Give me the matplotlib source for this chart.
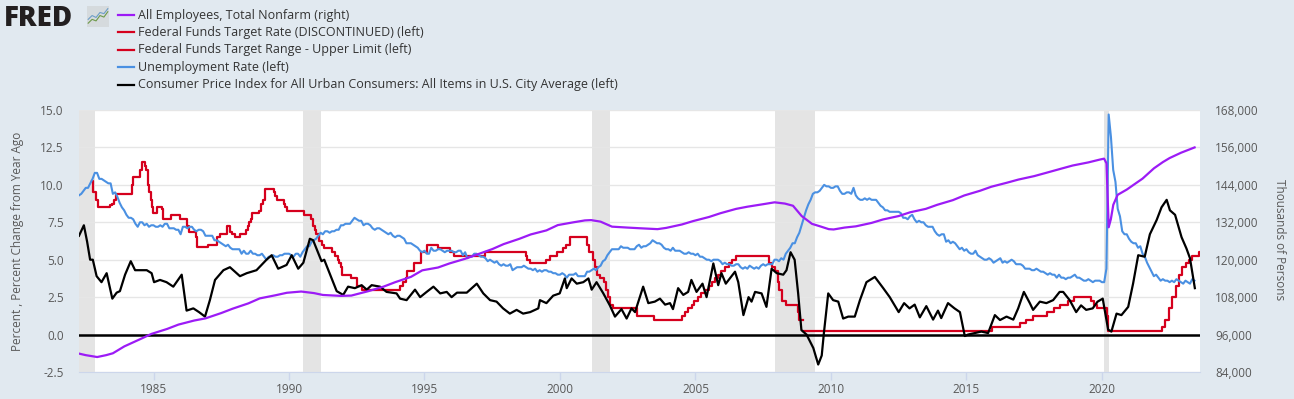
import matplotlib
matplotlib.use('Agg')
import matplotlib.pyplot as plt
from matplotlib.lines import Line2D
from matplotlib.ticker import FuncFormatter
import numpy

plt.rcParams['font.family'] = ['Open Sans', 'DejaVu Sans']

# --- data (decimal years) ---
unrate_start = 1982.25
unrate = [
    9.3, 9.4, 9.6, 9.8, 9.8, 10.1, 10.4, 10.8, 10.8,
    10.4, 10.4, 10.3, 10.2, 10.1, 10.1, 9.4, 9.5, 9.2, 8.8, 8.5, 8.3,
    8.0, 7.8, 7.8, 7.7, 7.4, 7.2, 7.5, 7.5, 7.3, 7.4, 7.2, 7.3,
    7.3, 7.2, 7.2, 7.3, 7.2, 7.4, 7.4, 7.1, 7.1, 7.1, 7.0, 7.0,
    6.7, 7.2, 7.2, 7.1, 7.2, 7.2, 7.0, 6.9, 7.0, 7.0, 6.9, 6.6,
    6.6, 6.6, 6.6, 6.3, 6.3, 6.2, 6.1, 6.0, 5.9, 6.0, 5.8, 5.7,
    5.7, 5.7, 5.7, 5.4, 5.6, 5.4, 5.4, 5.6, 5.4, 5.4, 5.3, 5.3,
    5.4, 5.2, 5.0, 5.2, 5.2, 5.3, 5.2, 5.2, 5.3, 5.3, 5.4, 5.4,
    5.4, 5.3, 5.2, 5.4, 5.4, 5.2, 5.5, 5.7, 5.9, 5.9, 6.2, 6.3,
    6.4, 6.6, 6.8, 6.7, 6.9, 6.9, 6.8, 6.9, 6.9, 7.0, 7.0, 7.3,
    7.3, 7.4, 7.4, 7.4, 7.6, 7.8, 7.7, 7.6, 7.6, 7.3, 7.4, 7.4,
    7.3, 7.1, 7.0, 7.1, 7.1, 7.0, 6.9, 6.8, 6.7, 6.8, 6.6, 6.5,
    6.6, 6.6, 6.5, 6.4, 6.1, 6.1, 6.1, 6.0, 5.9, 5.8, 5.6, 5.5,
    5.6, 5.4, 5.4, 5.8, 5.6, 5.6, 5.7, 5.7, 5.6, 5.5, 5.6, 5.6,
    5.6, 5.5, 5.5, 5.6, 5.6, 5.3, 5.5, 5.1, 5.2, 5.2, 5.4, 5.4,
    5.3, 5.2, 5.2, 5.1, 4.9, 5.0, 4.9, 4.8, 4.9, 4.7, 4.6, 4.7,
    4.6, 4.6, 4.7, 4.3, 4.4, 4.5, 4.5, 4.5, 4.6, 4.5, 4.4, 4.4,
    4.3, 4.4, 4.2, 4.3, 4.2, 4.3, 4.3, 4.2, 4.2, 4.1, 4.1, 4.0,
    4.0, 4.1, 4.0, 3.8, 4.0, 4.0, 4.0, 4.1, 3.9, 3.9, 3.9, 3.9,
    4.2, 4.2, 4.3, 4.4, 4.3, 4.5, 4.6, 4.9, 5.0, 5.3, 5.5, 5.7,
    5.7, 5.7, 5.7, 5.9, 5.8, 5.8, 5.8, 5.7, 5.7, 5.7, 5.9, 6.0,
    5.8, 5.9, 5.9, 6.0, 6.1, 6.3, 6.2, 6.1, 6.1, 6.0, 5.8, 5.7,
    5.7, 5.6, 5.8, 5.6, 5.6, 5.6, 5.5, 5.4, 5.4, 5.5, 5.4, 5.4,
    5.3, 5.4, 5.2, 5.2, 5.1, 5.0, 5.0, 4.9, 5.0, 5.0, 5.0, 4.9,
    4.7, 4.8, 4.7, 4.7, 4.6, 4.6, 4.7, 4.7, 4.5, 4.4, 4.5, 4.4,
    4.6, 4.5, 4.4, 4.5, 4.4, 4.6, 4.7, 4.6, 4.7, 4.7, 4.7, 5.0,
    5.0, 4.9, 5.1, 5.0, 5.4, 5.6, 5.8, 6.1, 6.1, 6.5, 6.8, 7.3,
    7.8, 8.3, 8.7, 9.0, 9.4, 9.5, 9.5, 9.6, 9.8, 10.0, 9.9, 9.9,
    9.8, 9.8, 9.9, 9.9, 9.6, 9.4, 9.4, 9.5, 9.5, 9.4, 9.8, 9.3,
    9.1, 9.0, 9.0, 9.1, 9.0, 9.1, 9.0, 9.0, 9.0, 8.8, 8.6, 8.5,
    8.3, 8.3, 8.2, 8.2, 8.2, 8.2, 8.2, 8.1, 7.8, 7.8, 7.7, 7.9,
    8.0, 7.7, 7.5, 7.6, 7.5, 7.5, 7.3, 7.2, 7.2, 7.2, 6.9, 6.7,
    6.6, 6.7, 6.7, 6.2, 6.3, 6.1, 6.2, 6.1, 5.9, 5.7, 5.8, 5.6,
    5.7, 5.5, 5.4, 5.4, 5.6, 5.3, 5.2, 5.1, 5.0, 5.0, 5.1, 5.0,
    4.8, 4.9, 5.0, 5.1, 4.8, 4.9, 4.8, 4.9, 5.0, 4.9, 4.7, 4.7,
    4.7, 4.6, 4.4, 4.4, 4.4, 4.3, 4.3, 4.4, 4.3, 4.2, 4.2, 4.1,
    4.0, 4.1, 4.0, 4.0, 3.8, 4.0, 3.8, 3.8, 3.7, 3.8, 3.8, 3.9,
    4.0, 3.8, 3.8, 3.7, 3.6, 3.6, 3.7, 3.6, 3.5, 3.6, 3.6, 3.6,
    3.5, 3.5, 4.4, 14.7, 13.2, 11.0, 10.2, 8.4, 7.9, 6.9, 6.7, 6.7,
    6.4, 6.2, 6.1, 6.1, 5.8, 5.9, 5.4, 5.2, 4.8, 4.5, 4.2, 3.9,
    4.0, 3.8, 3.6, 3.7, 3.6, 3.6, 3.5, 3.6, 3.5, 3.7, 3.6, 3.5,
    3.4, 3.6, 3.5, 3.4, 3.7, 3.6,
]
unrate_x = unrate_start + numpy.arange(len(unrate)) / 12.0

cpi_x = [
    1982.25, 1982.43, 1982.55, 1982.66, 1982.76, 1982.9, 1983.08, 1983.27,
    1983.48, 1983.64, 1983.76, 1983.95, 1984.16, 1984.32, 1984.75, 1984.93,
    1985.02, 1985.24, 1985.48, 1985.73, 1986.04, 1986.22, 1986.47, 1986.68,
    1986.9, 1987.08, 1987.27, 1987.58, 1987.82, 1988.19, 1988.44, 1988.8,
    1989.17, 1989.36, 1989.6, 1989.91, 1990.1, 1990.34, 1990.53, 1990.77,
    1990.89, 1991.2, 1991.3, 1991.76, 1992.0, 1992.18, 1992.43, 1992.68,
    1992.87, 1993.05, 1993.36, 1993.6, 1993.97, 1994.1, 1994.34, 1994.65,
    1994.84, 1995.08, 1995.33, 1995.58, 1995.82, 1996.0, 1996.2, 1996.56,
    1996.93, 1997.17, 1997.42, 1997.66, 1997.9, 1998.15, 1998.4, 1998.64,
    1998.9, 1999.2, 1999.26, 1999.5, 1999.75, 1999.99, 2000.18, 2000.25,
    2000.43, 2000.62, 2000.86, 2001.05, 2001.17, 2001.35, 2001.6, 2001.84,
    2002.03, 2002.27, 2002.46, 2002.64, 2002.77, 2003.07, 2003.26, 2003.5,
    2003.69, 2003.88, 2004.06, 2004.17, 2004.36, 2004.55, 2004.73, 2004.85,
    2005.04, 2005.26, 2005.41, 2005.66, 2005.84, 2005.96, 2006.12, 2006.46,
    2006.58, 2006.77, 2006.96, 2007.07, 2007.2, 2007.44, 2007.62, 2007.81,
    2008.0, 2008.24, 2008.36, 2008.51, 2008.66, 2008.79, 2008.91, 2009.1,
    2009.35, 2009.53, 2009.66, 2009.74, 2009.9, 2010.08, 2010.27, 2010.45,
    2010.64, 2010.88, 2011.07, 2011.31, 2011.62, 2011.93, 2012.17, 2012.5,
    2012.7, 2012.9, 2013.09, 2013.28, 2013.52, 2013.77, 2013.95, 2014.07,
    2014.32, 2014.56, 2014.76, 2014.94, 2015.06, 2015.31, 2015.55, 2015.8,
    2016.05, 2016.24, 2016.48, 2016.73, 2016.91, 2017.12, 2017.34, 2017.46,
    2017.71, 2017.95, 2018.2, 2018.44, 2018.57, 2018.81, 2019.05, 2019.23,
    2019.42, 2019.66, 2019.84, 2020.03, 2020.23, 2020.35, 2020.54, 2020.72,
    2020.97, 2021.15, 2021.34, 2021.58, 2021.77, 2022.02, 2022.2, 2022.39,
    2022.51, 2022.7, 2022.94, 2023.12, 2023.25, 2023.43,
]
cpi = [
    6.6, 7.3, 6.2, 5.0, 5.0, 3.9, 3.5, 4.1,
    2.4, 2.8, 2.9, 4.0, 4.9, 4.3, 4.3, 4.1,
    3.5, 3.65, 3.5, 3.2, 4.0, 1.6, 1.75, 1.5,
    1.2, 2.3, 3.65, 4.3, 4.5, 3.9, 4.1, 4.3,
    5.0, 5.3, 4.4, 4.65, 5.3, 4.4, 4.8, 6.4,
    6.3, 4.9, 5.0, 2.9, 2.65, 3.2, 3.1, 3.3,
    3.0, 3.3, 3.2, 2.85, 2.75, 2.4, 2.3, 3.0,
    2.5, 2.85, 3.2, 2.75, 2.85, 2.5, 2.8, 2.8,
    3.4, 2.75, 2.3, 2.2, 1.75, 1.4, 1.65, 1.4,
    1.5, 1.75, 2.3, 2.1, 2.6, 2.75, 3.75, 3.1,
    3.75, 3.4, 3.5, 3.75, 3.0, 3.5, 2.75, 1.95,
    1.2, 1.7, 1.07, 1.75, 1.5, 3.2, 2.1, 2.2,
    2.4, 2.0, 2.1, 1.7, 3.1, 2.65, 2.85, 3.65,
    2.85, 3.4, 2.5, 4.75, 3.3, 4.1, 3.4, 4.2,
    3.5, 1.3, 2.5, 2.2, 2.85, 2.75, 1.85, 4.4,
    4.1, 4.0, 4.3, 5.5, 5.0, 2.75, 0.3, 0.0,
    -0.9, -2.0, -1.4, 0.1, 2.75, 2.3, 2.2, 1.07,
    1.2, 1.2, 2.3, 3.5, 3.85, 3.1, 2.5, 1.5,
    2.1, 1.75, 2.0, 1.15, 1.9, 1.0, 1.6, 1.1,
    2.1, 1.75, 1.5, -0.1, 0.0, 0.1, 0.2, 0.1,
    1.3, 0.97, 1.2, 1.0, 1.75, 2.85, 2.1, 1.65,
    2.2, 2.1, 2.3, 2.85, 2.85, 2.3, 1.5, 1.95,
    1.65, 1.75, 2.2, 2.4, 0.33, 0.2, 1.4, 1.3,
    1.85, 3.4, 5.3, 5.2, 6.7, 7.65, 8.5, 9.0,
    8.3, 8.0, 6.5, 5.75, 5.1, 3.1,
]

payems_x = [
    1982.25, 1982.5, 1982.92, 1983.25, 1983.5, 1983.92, 1984.5, 1984.92,
    1985.5, 1985.92, 1986.5, 1986.92, 1987.5, 1987.92, 1988.5, 1988.92,
    1989.5, 1989.92, 1990.45, 1990.92, 1991.25, 1991.92, 1992.3, 1992.92,
    1993.5, 1993.92, 1994.5, 1994.92, 1995.5, 1995.92, 1996.5, 1996.92,
    1997.5, 1997.92, 1998.5, 1998.92, 1999.5, 1999.92, 2000.5, 2000.92,
    2001.15, 2001.5, 2001.92, 2002.5, 2002.92, 2003.6, 2003.92, 2004.5,
    2004.92, 2005.5, 2005.92, 2006.5, 2006.92, 2007.5, 2007.92, 2008.3,
    2008.6, 2008.92, 2009.3, 2009.6, 2009.92, 2010.1, 2010.5, 2010.92,
    2011.5, 2011.92, 2012.5, 2012.92, 2013.5, 2013.92, 2014.5, 2014.92,
    2015.5, 2015.92, 2016.5, 2016.92, 2017.5, 2017.92, 2018.5, 2018.92,
    2019.5, 2019.92, 2020.08, 2020.17, 2020.25, 2020.33, 2020.42, 2020.58,
    2020.92, 2021.25, 2021.5, 2021.92, 2022.25, 2022.5, 2022.92, 2023.42,
]
payems = [
    89900, 89400, 88800, 89400, 90000, 92200, 94500, 96200,
    97800, 99200, 100500, 101200, 102900, 104300, 106000, 107600,
    108600, 109400, 109800, 109300, 108700, 108400, 108500, 109900,
    111400, 112800, 114500, 116600, 117500, 118800, 120300, 121600,
    123400, 125000, 126700, 128100, 129400, 131100, 132000, 132600,
    132700, 132200, 130600, 130300, 130100, 129800, 130200, 131300,
    132400, 133700, 134900, 136300, 137000, 137800, 138400, 138000,
    137300, 134000, 131500, 130700, 129800, 129700, 130300, 130700,
    131800, 132900, 134000, 135200, 136300, 137600, 139100, 140600,
    142100, 143400, 144700, 145700, 146800, 147800, 149200, 150200,
    151200, 152100, 152400, 150900, 130400, 133000, 137600, 140800,
    142500, 144500, 146000, 149300, 151300, 152600, 154300, 156000,
]

# federal funds target rate: date of change, new level
fftar_x = [
    1982.74, 1982.75, 1982.77, 1982.88, 1982.95, 1983.40, 1983.48, 1983.53,
    1983.6, 1984.19, 1984.25, 1984.5, 1984.56, 1984.69, 1984.72, 1984.78,
    1984.85, 1984.9, 1984.93, 1984.97, 1985.12, 1985.3, 1985.36, 1985.65,
    1985.96, 1986.22, 1986.3, 1986.55, 1986.6, 1987.0, 1987.33, 1987.45,
    1987.7, 1987.84, 1987.9, 1988.0, 1988.19, 1988.42, 1988.48, 1988.52,
    1988.58, 1988.62, 1988.88, 1988.95, 1989.05, 1989.11, 1989.45, 1989.5,
    1989.54, 1989.8, 1989.87, 1989.91, 1990.55, 1990.8, 1990.87, 1990.9,
    1990.95, 1991.01, 1991.1, 1991.2, 1991.3, 1991.6, 1991.7, 1991.8,
    1991.85, 1991.92, 1991.97, 1992.27, 1992.5, 1992.7, 1994.1, 1994.2,
    1994.3, 1994.37, 1994.62, 1994.87, 1995.1, 1995.5, 1995.96, 1996.08,
    1997.23, 1998.75, 1998.79, 1998.88, 1999.5, 1999.65, 1999.88, 2000.1,
    2000.22, 2000.38, 2001.0, 2001.08, 2001.22, 2001.3, 2001.38, 2001.49,
    2001.64, 2001.71, 2001.76, 2001.85, 2001.95, 2002.85, 2003.48, 2004.5,
    2004.61, 2004.72, 2004.86, 2004.96, 2005.09, 2005.22, 2005.34, 2005.5,
    2005.61, 2005.72, 2005.84, 2005.96, 2006.08, 2006.24, 2006.36, 2006.5,
    2007.71, 2007.83, 2007.95, 2008.06, 2008.08, 2008.21, 2008.33, 2008.77,
    2008.83, 2008.96,
]
fftar = [
    10.25, 10.0, 9.5, 9.0, 8.5, 8.625, 8.75, 9.0,
    9.4, 10.0, 10.5, 11.0, 11.5, 11.25, 11.0, 10.0,
    9.5, 9.0, 8.5, 8.1, 8.5, 8.375, 7.75, 8.0,
    7.75, 7.25, 6.875, 6.5, 5.875, 6.0, 6.5, 6.75,
    7.25, 6.875, 6.75, 6.5, 6.75, 7.0, 7.25, 7.5,
    7.75, 8.125, 8.25, 8.75, 9.0, 9.75, 9.5, 9.25,
    9.0, 8.75, 8.5, 8.25, 8.0, 7.75, 7.5, 7.25,
    7.0, 6.75, 6.25, 6.0, 5.75, 5.5, 5.25, 5.0,
    4.75, 4.5, 4.0, 3.75, 3.25, 3.0, 3.25, 3.5,
    3.75, 4.25, 4.75, 5.5, 6.0, 5.75, 5.5, 5.25,
    5.5, 5.25, 5.0, 4.75, 5.0, 5.25, 5.5, 5.75,
    6.0, 6.5, 6.0, 5.5, 5.0, 4.5, 4.0, 3.75,
    3.5, 3.0, 2.5, 2.0, 1.75, 1.25, 1.0, 1.25,
    1.5, 1.75, 2.0, 2.25, 2.5, 2.75, 3.0, 3.25,
    3.5, 3.75, 4.0, 4.25, 4.5, 4.75, 5.0, 5.25,
    4.75, 4.5, 4.25, 3.5, 3.0, 2.25, 2.0, 1.5,
    1.0, 1.0,
]

ffupper_x = [
    2008.96, 2015.96, 2016.96, 2017.2, 2017.46, 2017.96, 2018.22, 2018.46,
    2018.74, 2018.97, 2019.58, 2019.72, 2019.83, 2020.17, 2020.21, 2022.21,
    2022.34, 2022.46, 2022.57, 2022.72, 2022.84, 2022.96, 2023.09, 2023.22,
    2023.34, 2023.57, 2023.62,
]
ffupper = [
    0.25, 0.5, 0.75, 1.0, 1.25, 1.5, 1.75, 2.0,
    2.25, 2.5, 2.25, 2.0, 1.75, 1.25, 0.25, 0.5,
    1.0, 1.75, 2.5, 3.25, 4.0, 4.5, 4.75, 5.0,
    5.25, 5.5, 5.5,
]

recessions = [(1981.5, 1982.83), (1990.5, 1991.17), (2001.17, 2001.83),
              (2007.92, 2009.42), (2020.08, 2020.25)]

series_names = [
    'All Employees, Total Nonfarm (right)',
    'Federal Funds Target Rate (DISCONTINUED) (left)',
    'Federal Funds Target Range - Upper Limit (left)',
    'Unemployment Rate (left)',
    'Consumer Price Index for All Urban Consumers: All Items in U.S. City Average (left)',
]

PURPLE = '#9c1bf6'
RED = '#d5001d'
BLUE = '#4a90e2'
BLACK = '#000000'
BG = '#e1e9f0'
TXT = '#595959'
colors = [PURPLE, RED, RED, BLUE, BLACK]

W, H = 1294, 399
fig = plt.figure(figsize=(W / 100, H / 100), dpi=100, facecolor=BG)
ax = fig.add_axes([79 / W, 27 / H, 1121 / W, 262 / H])
ax.set_facecolor('white')
ax2 = ax.twinx()

for a, b in recessions:
    ax.axvspan(a, b, color='#e4e4e4', lw=0, zorder=0)

ax.step(fftar_x, fftar, where='post', color=RED, lw=1.6, zorder=3)
ax.step(ffupper_x, ffupper, where='post', color=RED, lw=1.6, zorder=3)
ax.plot(unrate_x, unrate, color=BLUE, lw=1.5, zorder=3)
ax.plot(cpi_x, cpi, color=BLACK, lw=1.6, zorder=4)
ax.axhline(0, color='black', lw=1.8, zorder=5)
ax2.plot(payems_x, payems, color=PURPLE, lw=1.6)

ax.set_xlim(1982.25, 2023.62)
ax.set_ylim(-2.5, 15)
ax2.set_ylim(84000, 168000)
ax.set_yticks(numpy.arange(-2.5, 15.01, 2.5))
ax2.set_yticks(numpy.arange(84000, 168001, 12000))
ax.yaxis.set_major_formatter(FuncFormatter(lambda v, p: '{:.1f}'.format(v)))
ax2.yaxis.set_major_formatter(FuncFormatter(lambda v, p: '{:,}'.format(int(v))))
ax.set_xticks(range(1985, 2021, 5))

ax.grid(axis='y', color='#e6e6e6', lw=1, zorder=1)
ax.set_axisbelow(True)
for a in (ax, ax2):
    for s in a.spines.values():
        s.set_visible(False)
ax.spines['bottom'].set_visible(True)
ax.spines['bottom'].set_color('#ccd6eb')

ax.tick_params(axis='x', colors='#ccd6eb', labelcolor=TXT, length=5.5,
               width=1, labelsize=8.5, pad=2.5)
ax.tick_params(axis='y', length=0, labelcolor=TXT, labelsize=8.5, pad=11)
ax2.tick_params(axis='y', length=0, labelcolor=TXT, labelsize=8.5, pad=11)

fig.text(18 / W, 1 - 241 / H, 'Percent , Percent Change from Year Ago',
         rotation=90, ha='center', va='center', color=TXT, fontsize=8.5)
fig.text(1279 / W, 1 - 240 / H, 'Thousands of Persons', rotation=270,
         ha='center', va='center', color=TXT, fontsize=8.5)

# legend
for i, (name, c) in enumerate(zip(series_names, colors)):
    yy = 1 - (15 + i * 17.4) / H
    fig.add_artist(Line2D([118 / W, 134 / W], [yy, yy], color=c, lw=1.6,
                          transform=fig.transFigure))
    fig.text(138 / W, yy, name, va='center', ha='left', fontsize=9,
             color='#333333')

# FRED logo
fig.text(4 / W, 1 - 26 / H, 'FRED', fontsize=20, fontweight='heavy',
         color='#231f20', va='baseline', ha='left')
icon = fig.add_axes([87 / W, 1 - 27 / H, 22 / W, 21 / H])
icon.set_facecolor('#d5dadd')
icon.plot([0, 1, 2, 3, 4, 5], [1, 2, 1.6, 3, 2.6, 4], color='#6e9a4a', lw=0.8)
icon.plot([0, 1, 2, 3, 4, 5], [2, 3, 2.5, 3.8, 3.5, 4.8], color='#6d9ec8', lw=0.8)
icon.set_xlim(-0.3, 5.3)
icon.set_ylim(0, 5.5)
icon.set_xticks([])
icon.set_yticks([])
for s in icon.spines.values():
    s.set_visible(False)

fig.savefig('out.png', dpi=100, facecolor=BG)
